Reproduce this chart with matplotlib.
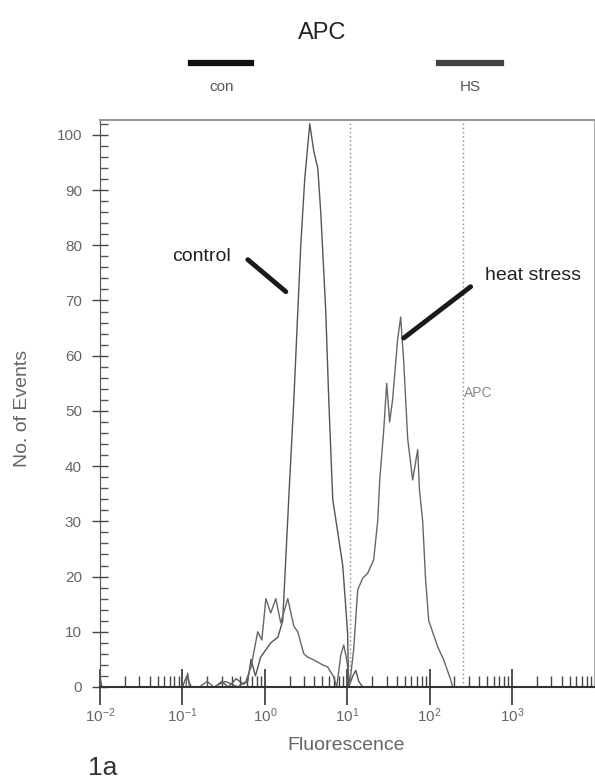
import numpy as np
import matplotlib
matplotlib.use('Agg')
import matplotlib.pyplot as plt
from matplotlib.ticker import LogLocator, MultipleLocator, NullFormatter
from matplotlib.lines import Line2D

plt.rcParams['font.family'] = ['Liberation Sans', 'DejaVu Sans']

# 数据: 荧光强度 (对数轴) 与事件数
control_x = [0.010, 0.0105, 0.10, 0.113, 0.128, 0.25, 0.30, 0.36, 0.45, 0.55, 0.62,
             0.68, 0.77, 0.89, 1.18, 1.44, 1.65, 1.70, 1.95, 2.25, 2.73, 3.05, 3.51,
             3.93, 4.39, 4.77, 5.49, 5.97, 6.67, 7.67, 8.82, 9.59, 10.1, 10.4, 11.7,
             12.7, 13.8, 15.4, 9000]
control_y = [2, 0, 0, 2, 0, 0, 1, 0, 1.5, 0.5, 1,
             5, 2, 5.4, 8, 9, 12, 16, 34, 52, 80, 92, 102,
             97, 94, 86, 68, 52, 34, 28, 22, 14.5, 9.8, 0, 2,
             3, 1, 0, 0]

hs_x = [0.010, 0.11, 0.116, 0.122, 0.16, 0.20, 0.24, 0.33, 0.40, 0.47, 0.59, 0.68,
        0.82, 0.92, 1.03, 1.18, 1.36, 1.56, 1.90, 2.25, 2.51, 2.97, 3.31, 3.81,
        4.39, 5.04, 5.80, 6.86, 7.45, 8.36, 9.07, 9.84, 10.7, 11.96, 13.4, 15.4,
        17.7, 20.9, 23.4, 24.8, 27.7, 30.1, 32.7, 35.5, 40.9, 44.5, 48.4, 54.1,
        62.2, 71.6, 75.2, 82.3, 89.3, 97.4, 125, 148, 180, 190, 9000]
hs_y = [0, 0, 2.5, 0, 0, 1, 0, 1, 0.5, 0, 1, 3.6,
        10, 8.5, 16, 13.4, 16, 11.6, 16, 11, 10, 6, 5.4, 5,
        4.5, 4, 3.6, 1.8, 0, 5.8, 7.6, 5, 0.5, 6.7, 17.6, 19.7,
        20.6, 23, 30, 37.5, 46.5, 55, 48, 52, 63, 67, 59, 45,
        37.5, 43, 35.7, 30, 19.4, 12, 7.3, 4.9, 1.3, 0, 0]

gate_lines = [10.7, 251]
decades = [0.01, 0.1, 1, 10, 100, 1000]

fig = plt.figure(figsize=(5.95, 7.81), dpi=100)
ax = fig.add_axes([0.168, 0.1204, 0.8298, 0.726])

ax.plot(control_x, control_y, color='#555555', lw=1.0)
ax.plot(hs_x, hs_y, color='#666666', lw=1.0)

for g in gate_lines:
    ax.axvline(g, color='#888888', lw=1.0, linestyle=(0, (1, 2)))

ax.set_xscale('log')
ax.set_xlim(0.01, 10 ** 3.99)
ax.set_ylim(0, 102.7)

ax.set_xticks(decades)
ax.xaxis.set_minor_locator(LogLocator(base=10, subs=np.arange(2, 10)))
ax.xaxis.set_minor_formatter(NullFormatter())
ax.yaxis.set_major_locator(MultipleLocator(10))
ax.yaxis.set_minor_locator(MultipleLocator(2))

ax.tick_params(axis='x', which='major', direction='inout', length=26, width=1.2,
               color='#333333', labelsize=11, labelcolor='#666666', pad=1)
ax.tick_params(axis='x', which='minor', direction='in', length=8, width=1.0, color='#444444')
ax.tick_params(axis='y', which='major', direction='inout', length=12, width=1.0,
               color='#444444', labelsize=11, labelcolor='#666666', pad=7)
ax.tick_params(axis='y', which='minor', direction='in', length=6, width=1.0, color='#555555')

ax.spines['top'].set_color('#999999')
ax.spines['top'].set_linewidth(1.5)
ax.spines['right'].set_color('#aaaaaa')
ax.spines['left'].set_color('#555555')
ax.spines['bottom'].set_color('#333333')
ax.spines['bottom'].set_linewidth(1.5)

ax.set_xlabel('Fluorescence', fontsize=14, color='#666666')
ax.xaxis.set_label_coords(0.498, -0.088)
ax.set_ylabel('No. of Events', fontsize=14, color='#666666')
ax.yaxis.set_label_coords(-0.14, 0.492)

# 标注
ax.text(0.172, 77.9, 'control', fontsize=14, color='#222222', ha='center', va='center')
ax.annotate('', xy=(1.80, 71.6), xytext=(0.622, 77.4),
            arrowprops=dict(arrowstyle='-', lw=3.5, color='#1a1a1a', shrinkA=0, shrinkB=0))
ax.text(1772, 74.6, 'heat stress', fontsize=14, color='#222222', ha='center', va='center')
ax.annotate('', xy=(48.4, 63.2), xytext=(314, 72.5),
            arrowprops=dict(arrowstyle='-', lw=3.5, color='#1a1a1a', shrinkA=0, shrinkB=0))
ax.text(258, 53.3, 'APC', fontsize=10, color='#888888', ha='left', va='center')

# 顶部图例
fig.text(0.541, 0.958, 'APC', fontsize=17, color='#222222', ha='center', va='center')
fig.add_artist(Line2D([0.321, 0.4215], [0.919, 0.919], lw=4.5, color='#111111'))
fig.add_artist(Line2D([0.738, 0.842], [0.919, 0.919], lw=4.5, color='#444444'))
fig.text(0.373, 0.8886, 'con', fontsize=11, color='#555555', ha='center', va='center')
fig.text(0.790, 0.8886, 'HS', fontsize=11, color='#555555', ha='center', va='center')
fig.text(0.173, 0.0166, '1a', fontsize=19, color='#333333', ha='center', va='center')

fig.savefig('out.png', dpi=100)
